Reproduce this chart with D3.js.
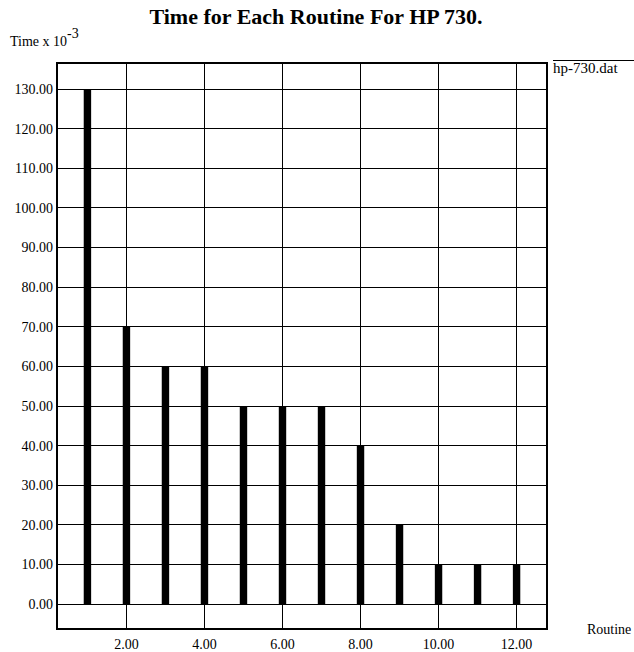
<!DOCTYPE html>
<html>
<head>
<meta charset="utf-8">
<script src="https://cdn.jsdelivr.net/npm/d3@7"></script>
<style>
  body { margin: 0; background: #fff; }
  text { font-family: "Liberation Serif", "Times New Roman", serif; }
</style>
</head>
<body>
<svg id="chart" width="634" height="652"></svg>
<script>
'use strict';

const routines = [1, 2, 3, 4, 5, 6, 7, 8, 9, 10, 11, 12];
const times = [130, 70, 60, 60, 50, 50, 50, 40, 20, 10, 10, 10];
const xTicks = [2, 4, 6, 8, 10, 12];
const yTicks = [0, 10, 20, 30, 40, 50, 60, 70, 80, 90, 100, 110, 120, 130];
const seriesName = "hp-730.dat";

let svg = d3.select("#chart");

let plotLeft = 57, plotRight = 547, plotTop = 63, plotBottom = 629;

let x = d3.scaleLinear()
    .domain([0.22, 12.78])
    .range([plotLeft, plotRight]);

let y = d3.scaleLinear()
    .domain([-6.3, 136.6])
    .range([plotBottom, plotTop]);

// grid
svg.append("g")
  .selectAll("line")
  .data(xTicks)
  .enter().append("line")
    .attr("x1", d => x(d)).attr("x2", d => x(d))
    .attr("y1", plotTop).attr("y2", plotBottom)
    .attr("stroke", "#000")
    .attr("stroke-width", 1)
    .attr("shape-rendering", "crispEdges");

svg.append("g")
  .selectAll("line")
  .data(yTicks)
  .enter().append("line")
    .attr("x1", plotLeft).attr("x2", plotRight)
    .attr("y1", d => y(d)).attr("y2", d => y(d))
    .attr("stroke", "#000")
    .attr("stroke-width", 1)
    .attr("shape-rendering", "crispEdges");

// bars
let barW = x(1.19) - x(1);
svg.append("g")
  .selectAll("rect")
  .data(routines)
  .enter().append("rect")
    .attr("x", (d) => x(d) - barW / 2)
    .attr("width", barW)
    .attr("y", (d, i) => y(times[i]))
    .attr("height", (d, i) => y(0) - y(times[i]))
    .attr("fill", "#000");

// frame
svg.append("rect")
  .attr("x", plotLeft).attr("y", plotTop)
  .attr("width", plotRight - plotLeft).attr("height", plotBottom - plotTop)
  .attr("fill", "none")
  .attr("stroke", "#000")
  .attr("stroke-width", 1.5)
  .attr("shape-rendering", "crispEdges");

// tick labels
svg.append("g")
  .selectAll("text")
  .data(yTicks)
  .enter().append("text")
    .attr("x", 53)
    .attr("y", d => y(d))
    .attr("dy", "0.35em")
    .attr("text-anchor", "end")
    .attr("font-size", 14)
    .text(d => d.toFixed(2));

svg.append("g")
  .selectAll("text")
  .data(xTicks)
  .enter().append("text")
    .attr("x", d => x(d))
    .attr("y", 649)
    .attr("text-anchor", "middle")
    .attr("font-size", 14)
    .text(d => d.toFixed(2));

// titles
svg.append("text")
  .attr("x", 316).attr("y", 24)
  .attr("text-anchor", "middle")
  .attr("font-size", 22)
  .attr("font-weight", "bold")
  .text("Time for Each Routine For HP 730.");

let yLab = svg.append("text")
  .attr("x", 10).attr("y", 46)
  .attr("font-size", 14);
yLab.append("tspan").text("Time x 10");
yLab.append("tspan").attr("dy", -8).attr("font-size", 14).text("-3");

svg.append("text")
  .attr("x", 587).attr("y", 634)
  .attr("font-size", 14)
  .text("Routine");

// legend
svg.append("line")
  .attr("x1", 553).attr("x2", 634)
  .attr("y1", 60.5).attr("y2", 60.5)
  .attr("stroke", "#000");
svg.append("text")
  .attr("x", 553).attr("y", 73)
  .attr("font-size", 15)
  .text(seriesName);
</script>
</body>
</html>
